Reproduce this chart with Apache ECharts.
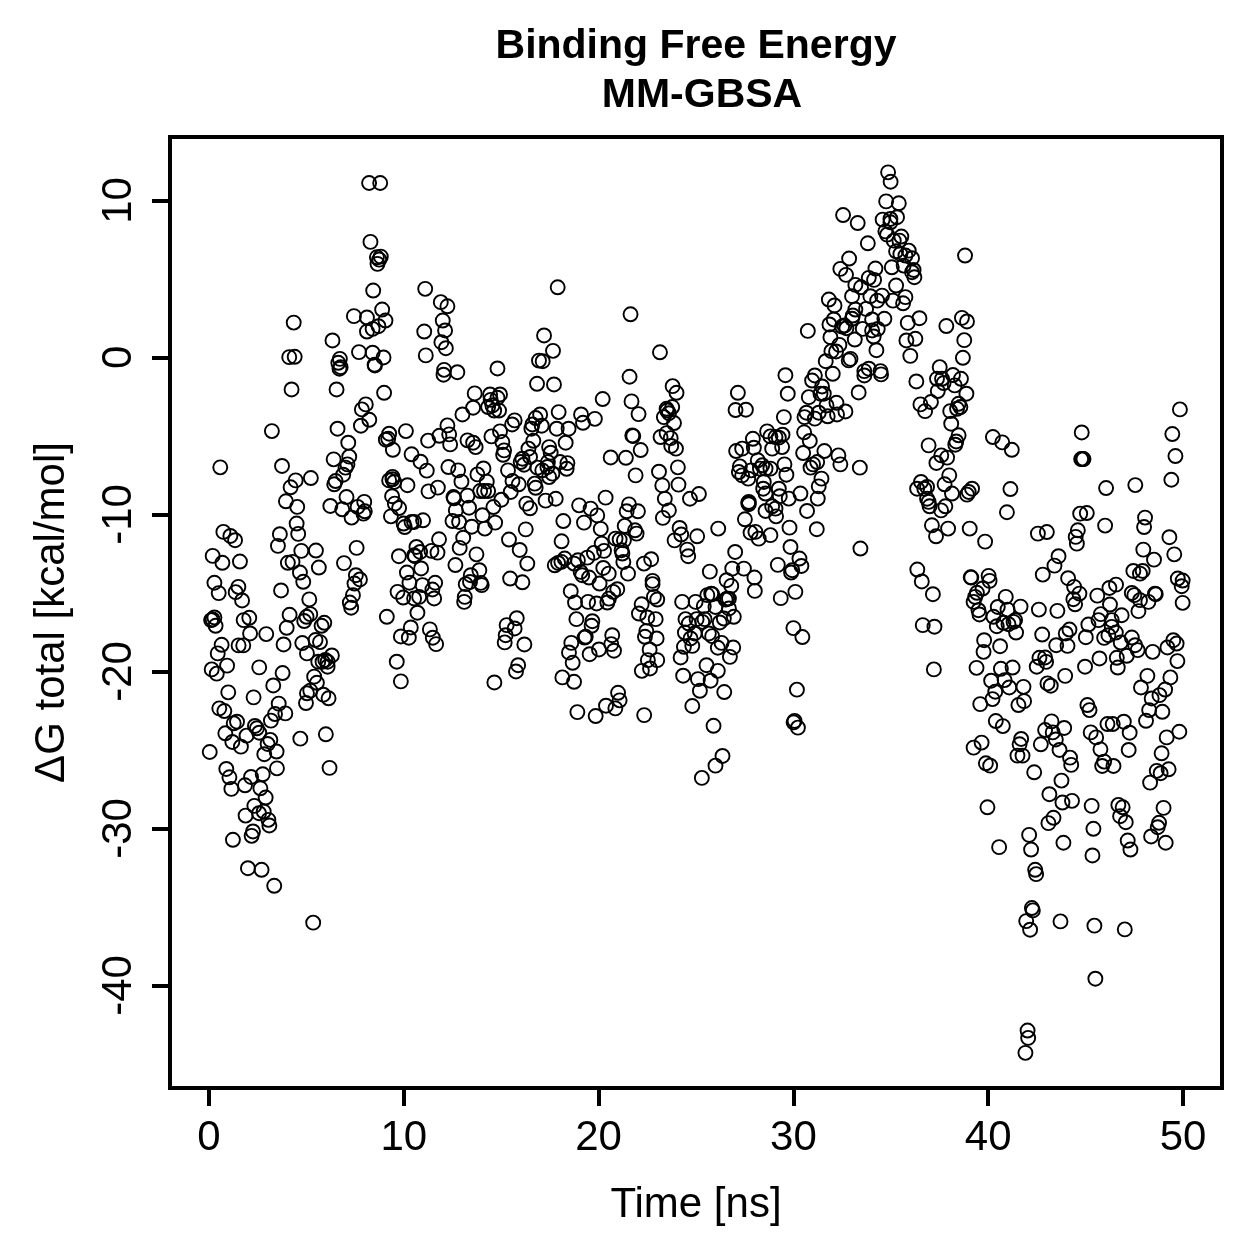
<!DOCTYPE html>
<html>
<head>
<meta charset="utf-8">
<title>Binding Free Energy MM-GBSA</title>
<script src="https://cdn.jsdelivr.net/npm/echarts@6/dist/echarts.min.js"></script>
<style>
html,body{margin:0;padding:0;background:#fff}
#chart{width:1259px;height:1259px}
</style>
</head>
<body>
<div id="chart"></div>
<script>
// [time in ns, delta G total in kcal/mol], grouped by stretch of the trajectory
const earlyRise = [
[8.22,11.11],[8.79,11.11],[8.29,7.36],[8.82,6.42],[8.62,6.38],[8.74,6.23],[8.65,5.96],[8.43,4.26],[11.10,4.37],[11.9,3.52],
[12.24,3.26],[12.0,2.35],[12.12,1.72],[11.93,0.97],[12.16,0.59],[12.07,-0.79],[12.04,-1.1],[11.05,1.65],[11.13,0.13],[4.35,2.22],
[4.12,0.02],[4.40,0.04],[4.24,-2.04],[6.34,1.08],[6.72,-0.09],[6.64,-0.34],[6.76,-0.62],[6.70,-0.72],[6.55,-2.04],[7.44,2.63],
[8.11,2.54],[8.89,3.05],[9.06,2.35],[8.70,1.99],[8.40,1.82],[8.11,1.65],[7.70,0.34],[8.40,0.30],[8.96,0.0],[8.5,-0.47],
[8.52,-0.51],[8.99,-2.25],[8.05,-2.99],[7.85,-3.31],[8.23,-3.97],[7.8,-4.35],[3.23,-4.69],[6.6,-4.54],[7.15,-5.43],[9.25,-4.86],
[9.08,-5.24],[9.2,-5.18],[10.11,-4.69],[9.44,-5.88],[11.25,-5.3],[11.83,-4.99],[12.24,-4.33],[12.33,-4.9],[12.38,-5.54],[10.4,-6.17],
[10.86,-6.64],[11.18,-7.21],[12.29,-6.98],[6.4,-6.49],[7.2,-6.32],[7.11,-6.81],[7.01,-7.02],[6.89,-7.47],[6.5,-7.87],[6.43,-8.08],
[0.58,-7.0],[3.75,-6.91],[4.45,-7.83],[5.23,-7.68],[4.19,-8.27],[3.95,-9.16],[4.53,-9.52],[4.5,-10.58],[4.58,-11.24],[3.64,-11.26],
[3.54,-12.0],[4.74,-12.32],[5.49,-12.3],[0.74,-11.11],[1.1,-11.37],[1.34,-11.64],[6.23,-9.46],[7.06,-8.89],[6.84,-9.67],[7.32,-10.2],
[7.63,-9.52],[7.97,-9.2],[8.0,-9.8],[7.93,-9.95],[9.4,-8.84],[9.54,-9.31],[9.76,-9.59],[9.34,-10.12],[9.42,-7.61],[9.25,-7.83],
[9.51,-7.93],[9.42,-7.76],[10.19,-8.14],[11.27,-8.53],[11.75,-8.29],[9.99,-10.58],[10.05,-10.8],[10.4,-10.48],[10.53,-10.48],[10.99,-10.37],
[11.81,-11.58],[10.65,-12.07],[10.84,-12.39],[10.53,-12.6],[11.42,-12.32],[11.73,-12.43],[7.58,-12.13],
[0.19,-12.64],[0.69,-13.08],[1.59,-13.0],[4.05,-13.08],[4.29,-13.02],[5.64,-13.38],[4.67,-13.7],[4.84,-14.29],[6.93,-13.1],[7.54,-13.87],
[7.75,-14.14],[7.47,-14.4],[7.39,-15.14],[7.23,-15.61],[7.3,-15.94],[0.28,-14.35],[0.5,-15.01],[1.51,-14.61],[1.37,-14.95],[1.7,-15.48],
[3.7,-14.84],[5.15,-15.41],[9.75,-12.66],[10.58,-12.66],[10.16,-13.7],[10.89,-13.44],[10.29,-14.35],[10.96,-14.5],[11.61,-14.35],[9.68,-14.93],
[9.97,-15.29],[10.53,-15.35],[10.79,-15.25],[11.47,-14.78],[11.56,-15.35],[10.7,-16.26],[9.13,-16.52],[10.36,-17.2],[9.85,-17.77],[10.26,-17.85],
[11.34,-17.32],[11.49,-17.85],[11.66,-18.26],[9.64,-19.38],[9.85,-20.63],[0.28,-16.56],[0.11,-16.73],[0.19,-16.69],[0.34,-17.09],[1.78,-16.73],
[2.07,-16.58],[2.11,-17.58],[2.94,-17.62],[4.14,-16.39],[3.99,-17.22],[4.89,-16.79],[5.01,-16.52],[5.2,-16.35],[5.78,-17.09],[5.92,-16.9],
[0.65,-18.3],[0.45,-18.85],[1.52,-18.34],[1.76,-18.34],[3.83,-18.28],[4.79,-18.19],[5.47,-18.0],[5.7,-18.13],[5.03,-18.85],[6.31,-18.98],
[5.61,-19.38],[5.83,-19.38],[5.97,-19.27],[6.09,-19.38],[6.09,-19.7],[0.14,-19.87],[0.4,-20.14],[0.93,-19.63],[2.58,-19.74],[3.78,-20.1],
[5.4,-20.33],[5.54,-20.72],[3.3,-20.89],[5.2,-21.22],[5.03,-21.39],[5.87,-21.48],[6.14,-21.71],[4.98,-22.01],[0.99,-21.33],[2.29,-21.65],
[3.58,-22.05],[3.92,-22.67],[3.39,-22.71],[3.18,-23.13],[0.53,-22.35],[0.79,-22.52],[1.27,-23.3],[1.44,-23.2],[0.84,-23.94],[1.2,-24.49],
[1.64,-24.79],[1.93,-24.09],[2.36,-23.47],[2.46,-23.62],[2.58,-23.9],[3.15,-24.36],[3.01,-24.62],[2.84,-25.27],[3.47,-25.1],[4.69,-24.28],
[6.0,-24.0],[0.04,-25.13],[3.49,-26.17],[6.19,-26.14],[0.89,-26.21],[1.05,-26.74],[1.15,-27.48],[1.85,-27.25],[2.16,-26.72],[2.76,-26.55],
[2.64,-27.44],[2.91,-28.03],[2.33,-28.56],[2.57,-29.03],[2.81,-28.92],[1.88,-29.18],[3.05,-29.45],[3.1,-29.81],[2.26,-30.19],[2.19,-30.47],
[1.23,-30.72],[2.0,-32.53],[2.7,-32.63],[3.35,-33.65],[5.35,-36.0]
];
const plateau = [
[17.9,4.47],[21.64,2.75],[17.2,1.4],[17.66,0.42],[16.94,-0.2],[17.13,-0.24],[23.15,0.33],[14.81,-0.7],[12.75,-0.94],[16.84,-1.68],
[17.71,-1.72],[21.59,-1.23],[20.21,-2.65],[21.69,-2.8],[22.05,-3.61],[23.8,-1.83],[24.0,-2.25],[13.64,-2.29],[14.43,-2.36],[14.94,-2.36],
[14.81,-2.57],[14.46,-2.7],[14.33,-3.16],[14.55,-3.06],[14.64,-3.38],[14.89,-3.38],[13.56,-3.2],[13.01,-3.63],[17.95,-3.48],[19.1,-3.63],
[19.2,-4.16],[19.81,-3.91],[17.0,-3.63],[16.77,-3.86],[17.08,-4.35],[16.6,-4.27],[16.55,-4.54],[15.69,-4.01],[15.56,-4.27],[14.94,-4.71],
[14.5,-5.03],[13.27,-5.28],[13.56,-5.43],[13.69,-5.71],[15.06,-5.39],[15.15,-5.92],[15.1,-6.2],[17.85,-4.54],[18.46,-4.54],[18.31,-5.43],
[16.65,-5.31],[17.46,-5.71],[17.54,-6.07],[16.4,-5.81],[16.48,-6.34],[16.09,-6.45],[16.0,-6.66],[16.17,-6.83],[18.02,-6.66],[18.4,-6.73],
[18.36,-7.09],[17.4,-6.66],[16.86,-7.02],[17.11,-7.19],[17.37,-6.98],[17.63,-7.4],[17.46,-7.62],[21.78,-5.01],[21.73,-4.97],[20.62,-6.37],
[21.4,-6.39],[22.16,-5.9],[21.9,-7.51],[23.52,-3.38],[23.78,-3.16],[23.35,-3.8],[23.49,-3.27],[23.61,-3.55],[23.87,-4.18],[23.18,-5.07],
[23.49,-4.82],[23.7,-5.14],[23.73,-5.64],[23.97,-5.81],[24.07,-7.0],[23.1,-7.28],[23.27,-8.15],[24.1,-8.1],[25.15,-8.7],[24.69,-9.0],
[23.4,-9.0],[23.61,-9.74],[23.3,-10.22],[15.35,-7.19],[14.09,-7.07],[13.78,-7.45],[14.26,-7.91],[13.92,-8.51],[14.12,-8.51],[14.33,-8.51],
[12.79,-7.19],[12.96,-7.91],[12.55,-8.89],[12.58,-8.97],[13.27,-8.8],[13.35,-9.57],[12.67,-9.74],[15.58,-7.87],[15.9,-8.08],[16.72,-8.04],
[16.77,-8.3],[15.49,-8.57],[15.01,-9.06],[14.6,-9.53],[14.04,-10.05],[12.5,-10.42],[12.84,-10.48],[13.49,-10.78],[14.16,-10.9],[14.69,-10.52],
[16.26,-10.95],[16.29,-9.31],[16.48,-9.61],[17.28,-9.12],[17.8,-9.0],[19.0,-9.42],[19.59,-9.63],[19.93,-10.06],[20.36,-8.93],[21.56,-9.36],
[21.44,-9.8],[22.02,-9.8],[18.19,-10.42],[19.25,-10.52],[20.11,-10.92],[21.34,-10.73],[21.87,-11.01],[21.95,-11.22],[20.87,-11.54],[21.08,-11.6],
[21.3,-11.65],[24.16,-10.86],[24.24,-11.28],[23.9,-11.65],[25.06,-11.39],[26.14,-10.9],[13.05,-11.48],[12.87,-12.13],[13.73,-12.54],[12.65,-13.22],
[13.88,-13.55],[13.44,-13.87],[13.18,-14.44],[13.4,-14.3],[13.95,-14.36],[14.0,-14.5],[13.13,-15.25],[13.1,-15.57],[15.4,-11.6],[15.95,-12.26],
[16.34,-13.13],[15.46,-14.08],[16.09,-14.32],[18.1,-11.71],[20.16,-11.86],[20.28,-12.32],[19.76,-12.45],[19.42,-12.75],[18.94,-12.92],[18.74,-13.13],
[18.26,-12.81],[18.09,-13.02],[17.75,-13.24],[17.92,-13.09],[21.18,-12.28],[21.22,-12.49],[21.27,-13.03],[22.33,-13.13],[22.7,-12.85],[24.55,-12.24],
[24.6,-12.66],[20.24,-13.41],[20.52,-13.77],[21.51,-13.77],[19.08,-13.66],[19.16,-13.87],[19.51,-14.02],[20.05,-14.4],[22.77,-14.23],[22.77,-14.44],
[25.71,-13.64],[18.57,-14.89],[20.96,-14.76],[20.75,-14.93],[20.53,-15.36],[22.84,-15.25],[23.01,-15.42],[18.79,-15.61],[19.46,-15.57],[19.9,-15.67],
[20.45,-15.61],[22.21,-15.72],[24.29,-15.57],[24.98,-15.57],[25.58,-15.14],[25.83,-15.08],
[27.51,-10.31],[27.8,-11.16],[28.05,-11.11],[28.22,-11.54],[27.01,-12.39],[26.86,-13.45],[27.46,-13.45],[26.57,-14.19],[26.81,-14.55],[28.0,-14.02],
[28.02,-14.87],[25.78,-15.04],[26.6,-15.36],[26.52,-15.42],[26.69,-15.36],[25.4,-15.84],[26.0,-15.89],[26.69,-15.99],[26.94,-16.52],[26.43,-16.63],
[26.22,-16.88],[25.44,-16.67],[25.32,-16.84],[25.03,-16.67],[24.46,-16.67],[24.63,-16.95],[24.43,-17.52],[24.93,-17.58],[24.72,-17.9],[24.81,-18.37],
[24.38,-18.43],[25.66,-17.58],[25.83,-17.75],[26.31,-18.18],[26.12,-18.49],[26.91,-18.47],[26.74,-19.07],[24.21,-19.11],[25.54,-19.6],[26.12,-19.96],
[24.34,-20.27],[25.1,-20.49],[25.75,-20.59],[25.2,-21.23],[26.45,-21.31],[24.81,-22.2],[25.9,-23.46],[26.36,-25.38],[26.0,-26.0],[25.3,-26.78],
[22.07,-16.31],[22.5,-16.56],[22.93,-16.67],[22.45,-17.43],[22.38,-17.79],[22.98,-17.9],[22.62,-18.6],[22.53,-19.28],[23.01,-19.28],[22.64,-19.81],
[22.22,-19.96],[18.86,-16.67],[19.68,-16.8],[19.64,-17.09],[19.34,-17.79],[19.28,-17.84],[20.7,-17.69],[20.65,-18.26],[20.79,-18.68],[20.02,-18.6],
[19.54,-18.9],[18.6,-18.18],[18.48,-18.79],[18.67,-19.45],[18.14,-20.38],[18.74,-20.66],[21.0,-21.36],[21.08,-21.84],[20.86,-22.35],[20.38,-22.18],
[18.91,-22.59],[19.85,-22.84],[22.34,-22.78],[15.8,-16.61],[15.28,-17.05],[15.69,-17.26],[15.23,-17.69],[15.18,-18.15],[16.19,-18.28],[15.87,-19.6],
[15.76,-20.0],[14.65,-20.7]
];
const climbAndPeak = [
[34.86,11.79],[34.99,11.19],[34.76,9.94],[35.41,9.82],[32.55,9.07],[33.3,8.56],[34.58,8.78],[34.98,8.82],[35.32,8.93],[34.98,8.61],
[34.72,8.03],[34.81,7.82],[35.54,7.7],[35.44,7.44],[35.15,7.44],[33.82,7.27],[35.27,6.76],[35.49,6.59],[35.92,6.8],[35.75,6.49],
[36.09,6.32],[35.66,5.85],[36.17,5.57],[36.09,5.43],[36.21,5.11],[38.81,6.49],[35.05,5.74],[32.86,6.3],[32.41,5.64],[32.7,5.26],
[34.21,5.66],[33.87,5.07],[34.14,4.94],[35.27,4.58],[33.18,4.62],[33.47,4.47],[33.01,3.9],[33.95,3.9],[34.55,3.94],[34.3,3.62],
[35.11,3.62],[35.75,3.84],[35.63,3.45],[31.82,3.69],[32.11,3.31],[33.18,3.05],[33.05,2.67],[33.73,3.09],[32.07,2.42],[31.85,2.1],
[34.67,2.46],[34.04,2.42],[33.01,2.46],[32.62,2.03],[32.72,1.86],[32.5,1.97],[33.56,1.82],[34.04,1.72],[34.33,1.82],[34.12,1.33],
[33.15,1.14],[31.9,1.29],[32.36,0.8],[31.95,0.4],[32.19,0.38],[34.26,0.46],[30.74,1.69],[35.87,2.2],[36.47,2.5],[37.85,2.0],
[38.65,2.52],[38.91,2.29],[35.8,1.08],[36.26,1.19],[38.77,1.1],[36.0,0.1],[38.7,-0.02],[32.84,-0.19],[32.93,-0.09],[31.66,-0.24],
[33.64,-0.87],[33.87,-0.72],[33.64,-1.15],[34.47,-0.87],[34.5,-1.08],[32.02,-1.04],[31.1,-1.15],[30.96,-1.47],[29.59,-1.13],[27.15,-2.25],
[29.71,-2.31],[31.47,-1.85],[30.79,-2.53],[31.39,-2.31],[31.56,-2.31],[33.35,-2.23],[36.31,-1.53],[37.51,-0.62],[37.37,-1.36],[37.63,-1.36],
[37.71,-1.63],[38.19,-1.12],[38.6,-1.36],[38.28,-1.78],[37.41,-2.14],[38.88,-2.31],[31.7,-3.06],[32.21,-2.89],[32.67,-3.44],[32.24,-3.63],
[31.76,-3.75],[31.3,-3.52],[31.1,-3.9],[30.67,-3.52],[30.57,-3.8],[29.51,-3.8],[27.03,-3.35],[27.56,-3.33],[36.52,-2.99],[37.06,-2.84],
[36.76,-3.42],[38.05,-3.42],[38.48,-2.95],[38.57,-3.16],[38.4,-3.27],[38.1,-4.22],[38.48,-4.96],[38.36,-5.35],[38.31,-5.56],[36.94,-5.6],
[37.59,-6.24],[37.89,-6.38],[37.34,-6.72],[30.55,-4.77],[30.84,-5.32],[28.65,-4.71],[29.44,-4.92],[28.82,-5.03],[29.08,-5.07],[29.25,-5.11],
[27.92,-5.18],[27.97,-5.75],[28.91,-5.81],[29.42,-5.71],[27.06,-5.96],[27.37,-5.81],[30.5,-6.09],[31.59,-5.96],[32.31,-6.24],[32.41,-6.81],
[33.41,-7.02],[31.22,-6.66],[31.01,-6.81],[30.88,-7.02],[28.17,-6.55],[29.54,-6.81],[29.64,-7.47],[27.25,-6.94],[27.2,-7.3],[27.37,-7.51],
[27.68,-7.72],[27.83,-7.19],[28.4,-6.87],[28.28,-7.08],[28.57,-7.08],[28.82,-7.08],[28.48,-7.93],[28.45,-8.36],[28.57,-8.67],[29.25,-8.36],
[29.3,-8.84],[29.76,-8.99],[30.36,-8.67],[31.44,-7.72],[31.3,-8.21],[31.25,-8.99],[30.7,-9.78],[27.71,-9.2],[27.68,-9.27],[27.71,-9.35],
[28.57,-9.78],[28.91,-9.48],[29.08,-9.63],[29.11,-10.12],[28.82,-11.32],[29.8,-10.84],[31.2,-10.94],[29.85,-12.07],[33.44,-12.17],[30.31,-12.81],
[30.41,-13.28],[29.2,-13.21],[29.94,-13.55],[29.88,-13.7],[36.36,-13.51],[39.1,-14.0],[39.13,-14.02],[36.55,-7.93],[36.35,-8.36],[36.72,-8.36],
[36.86,-8.25],[37.76,-8.08],[38.0,-7.51],[38.14,-8.67],[39.17,-8.36],[39.0,-8.57],[38.91,-8.74],[36.86,-9.0],[36.94,-9.2],[36.99,-9.48],
[37.8,-9.48],[37.58,-9.74],[37.11,-10.69],[37.94,-10.9],[39.05,-10.9],[37.32,-11.39],[30.1,-14.93],[29.35,-15.33],[36.59,-14.27],[37.16,-15.08],
[36.64,-17.05],[37.24,-17.15],[30.0,-17.24],[30.46,-17.81],[37.21,-19.87],[30.18,-21.16],[30.06,-23.15],[30.01,-23.24],[30.23,-23.58]
];
const lateDrop = [
[49.84,-3.31],[44.8,-4.78],[49.45,-4.88],[44.84,-6.47],[44.77,-6.47],[44.89,-6.47],[49.61,-6.28],[49.4,-7.79],[40.24,-5.07],[40.72,-5.41],
[41.21,-5.88],[46.05,-8.32],[47.55,-8.13],[41.14,-8.38],[40.96,-9.86],[44.72,-9.95],[45.06,-9.91],[46.0,-10.71],[48.05,-10.2],[48.0,-10.8],
[49.3,-11.45],[42.55,-11.22],[43.01,-11.12],[44.6,-11.01],[44.49,-11.43],[44.55,-11.86],[39.84,-11.73],[47.96,-12.24],[48.51,-12.88],[49.55,-12.54],
[43.61,-12.66],[43.4,-13.26],[42.8,-13.83],[47.45,-13.6],[47.93,-13.6],[47.79,-13.77],[49.73,-14.08],[49.98,-14.21],[49.93,-14.57],[44.1,-14.06],
[44.41,-14.61],[44.68,-15.04],[44.37,-15.4],[44.46,-15.72],[46.22,-14.68],[46.56,-14.47],[45.6,-15.17],[47.37,-15.0],[47.5,-15.14],[48.6,-15.08],
[48.56,-15.04],[47.79,-15.46],[48.22,-15.57],[46.25,-15.74],[47.71,-16.16],[49.98,-15.63],[40.02,-13.91],[40.07,-14.23],[39.71,-14.72],[39.42,-14.99],
[39.33,-15.25],[39.25,-15.57],[39.5,-16.1],[39.55,-16.37],[40.9,-15.25],[40.49,-15.89],[40.99,-16.06],[41.66,-15.87],[42.6,-16.06],[43.55,-16.14],
[40.27,-16.52],[40.44,-17.12],[41.38,-16.73],[41.3,-16.84],[41.04,-16.99],[40.78,-16.9],[41.43,-17.52],[39.79,-18.01],[39.76,-18.75],[40.61,-18.39],
[42.77,-17.65],[44.17,-17.33],[43.98,-17.58],[43.49,-18.33],[44.07,-18.37],[45.14,-17.01],[45.66,-16.73],[45.78,-16.35],[46.85,-16.42],[46.34,-16.73],
[46.34,-17.16],[46.55,-17.52],[46.17,-17.69],[45.95,-17.86],[45.01,-17.82],[46.8,-18.16],[47.37,-17.84],[47.54,-18.33],[47.67,-18.64],[47.11,-19.0],
[46.6,-19.13],[45.71,-19.17],[44.97,-19.7],[46.65,-19.75],[48.44,-18.75],[49.2,-18.47],[49.5,-18.01],[49.67,-18.22],[49.71,-19.34],[42.63,-19.13],
[42.92,-19.11],[42.97,-19.39],[42.49,-19.7],[39.4,-19.77],[40.65,-19.83],[41.25,-19.75],[40.15,-20.59],[40.84,-20.55],[41.08,-21.02],[41.81,-20.98],
[43.95,-20.28],[43.04,-20.76],[43.21,-20.91],[48.17,-20.28],[49.35,-20.38],[47.84,-21.02],[49.08,-21.15],[48.79,-21.51],[48.39,-21.72],[40.36,-21.29],
[40.22,-21.76],[39.59,-22.08],[41.84,-21.89],[41.55,-22.14],[45.09,-22.14],[45.2,-22.46],[48.26,-22.46],[48.94,-22.57],[48.1,-23.14],[40.39,-23.16],
[40.75,-23.48],[46.12,-23.35],[46.39,-23.35],[46.96,-23.2],[47.26,-23.9],[43.25,-23.18],[42.92,-23.73],[43.9,-23.6],[43.31,-23.88],[43.47,-24.33],
[42.7,-24.64],[43.66,-25.0],[45.26,-23.88],[45.54,-24.2],[45.76,-24.96],[47.21,-25.0],[49.16,-24.2],[49.81,-23.84],[41.69,-24.3],[41.61,-24.64],
[39.66,-24.53],[39.25,-24.85],[41.5,-25.36],[41.76,-25.36],[39.88,-25.85],[40.1,-26.0],[44.2,-25.49],[44.26,-25.95],[45.95,-25.74],[46.43,-26.02],
[45.85,-26.02],[48.9,-25.21],[48.65,-26.33],[48.85,-26.48],[49.26,-26.23],[48.31,-27.08],[42.36,-26.42],[43.76,-26.95],[43.14,-27.82],[43.81,-28.35],
[44.3,-28.24],[45.31,-28.56],[46.68,-28.5],[46.9,-28.65],[46.77,-29.22],[47.06,-29.6],[49.0,-28.69],[39.96,-28.65],[43.35,-29.32],[43.09,-29.66],
[45.4,-30.02],[48.77,-29.64],[48.7,-29.92],[48.36,-30.51],[49.11,-30.91],[42.1,-30.41],[42.2,-31.34],[40.56,-31.19],[43.86,-30.91],[47.16,-30.77],
[47.3,-31.34],[45.35,-31.72],[42.41,-32.63],[42.46,-32.91],[42.24,-35.07],[42.29,-35.22],[41.95,-35.9],[42.15,-36.45],[43.71,-35.92],[45.45,-36.19],
[47.01,-36.43],[45.5,-39.57],[42.02,-42.87],[42.05,-43.34],[41.91,-44.29]
];

const timeTicks = [0, 10, 20, 30, 40, 50];
const energyTicks = [-40, -30, -20, -10, 0, 10];

const fontFamily = '"Liberation Sans", Helvetica, Arial, sans-serif';
const titleStyle = { fontFamily, fontWeight: 'bold', fontSize: 41, color: '#000' };
const chart = echarts.init(document.getElementById('chart'), null, { renderer: 'canvas' });

chart.setOption({
  animation: false,
  backgroundColor: '#ffffff',
  title: [
    { text: 'Binding Free Energy', left: 696, top: 26, textAlign: 'center', padding: 0, textStyle: titleStyle },
    { text: 'MM-GBSA', left: 702, top: 75, textAlign: 'center', padding: 0, textStyle: titleStyle }
  ],
  grid: {
    left: 170, right: 37, top: 137, bottom: 171,
    show: true, borderColor: '#000', borderWidth: 4, backgroundColor: 'transparent'
  },
  xAxis: {
    type: 'value',
    min: -2, max: 52,
    name: 'Time [ns]',
    nameLocation: 'middle',
    nameGap: 96,
    nameTextStyle: { fontFamily, fontSize: 42, color: '#000' },
    axisLine: { show: false, onZero: false },
    axisTick: { show: true, length: 18, lineStyle: { color: '#000', width: 4 }, customValues: timeTicks },
    axisLabel: { show: true, margin: 29, fontFamily, fontSize: 42, color: '#000', customValues: timeTicks },
    splitLine: { show: false }
  },
  yAxis: {
    type: 'value',
    min: -46.53, max: 14.04,
    name: 'ΔG total [kcal/mol]',
    nameLocation: 'middle',
    nameRotate: 90,
    nameGap: 97,
    nameTextStyle: { fontFamily, fontSize: 42, color: '#000' },
    axisLine: { show: false, onZero: false },
    axisTick: { show: true, length: 18, lineStyle: { color: '#000', width: 4 }, customValues: energyTicks },
    axisLabel: { show: true, margin: 30, rotate: 90, fontFamily, fontSize: 42, color: '#000', customValues: energyTicks },
    splitLine: { show: false }
  },
  series: [{
    type: 'scatter',
    data: [].concat(earlyRise, plateau, climbAndPeak, lateDrop),
    symbol: 'circle',
    symbolSize: 14,
    itemStyle: { color: 'rgba(0,0,0,0)', opacity: 1, borderColor: '#000', borderWidth: 1.9 },
    emphasis: { disabled: true },
    silent: true,
    large: false
  }]
});
</script>
</body>
</html>
